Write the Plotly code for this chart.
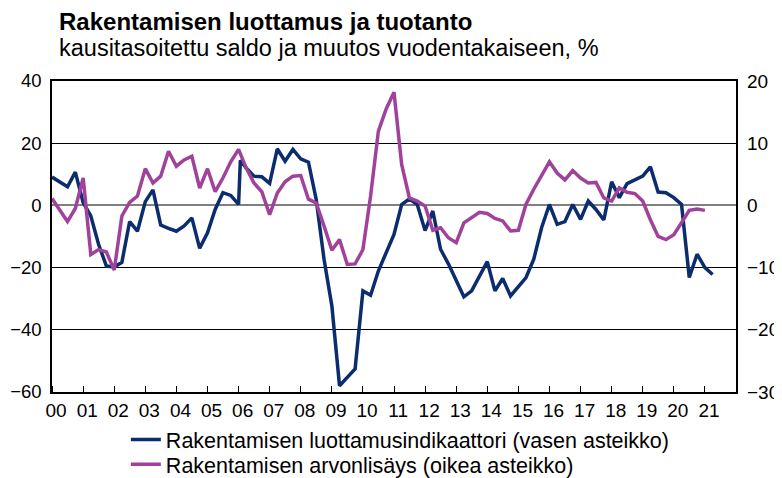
import pandas as pd
import plotly.graph_objects as go

# Construction confidence indicator (left scale), quarterly 2000Q1..2021Q2,
# plus one extra observation in January 2006
navy_name = "Rakentamisen luottamusindikaattori (vasen asteikko)"
navy_values = [9.1, 7.6, 6.0, 10.7, 0.9, -3.4, -12.5, -19.5, -19.8, -18.3,
               -5.2, -8.3, 1.2, 5.0, -6.3, -7.4, -8.3, -6.6, -4.0, -13.8,
               -8.8, -1.3, 4.1, 3.2, 0.3, 14.5,
               12.0, 9.4, 9.2, 7.1, 18.2, 14.2, 18.0, 15.0, 13.9, 1.9,
               -17.3, -32.3, -58.0, -55.3, -52.6, -27.5, -28.9, -21.1, -15.2, -9.3,
               0.3, 2.1, 0.3, -8.1, -1.8, -14.1, -18.8, -23.9, -29.4, -27.5,
               -22.8, -18.1, -27.5, -23.5, -29.1, -26.2, -23.2, -17.3, -7.2, 0.3,
               -6.1, -5.2, 0.3, -4.5, 1.4, -1.3, -4.7, 7.6, 2.5, 7.0,
               8.3, 9.4, 12.4, 4.3, 4.1, 2.5, 0.3, -23.2, -15.7, -20.0,
               -22.2]
navy_extra_date = "2006-01-22"

# Construction value added, y/y % (right scale), quarterly 2000Q1..2021Q1
purple_name = "Rakentamisen arvonlisäys (oikea asteikko)"
purple_values = [1.1, -0.7, -2.6, -0.5, 4.4, -7.9, -7.1, -7.5, -10.4, -1.7,
                 0.5, 1.5, 5.9, 3.6, 4.7, 8.7, 6.3, 7.3, 7.9, 2.8,
                 5.9, 2.2, 4.4, 7.0, 9.0, 6.0, 3.6, 2.2, -1.5, 2.0,
                 3.8, 4.7, 4.8, 1.0, 0.4, -3.3, -7.2, -5.5, -9.5, -9.4,
                 -7.1, 1.5, 11.9, 15.5, 18.2, 6.6, 1.2, 0.7, -0.1, -4.0,
                 -3.6, -5.2, -6.0, -2.8, -2.0, -1.1, -1.3, -2.1, -2.5, -4.1,
                 -4.0, 0.2, 2.6, 4.7, 7.0, 5.2, 4.1, 5.6, 4.4, 3.6,
                 3.7, 1.2, 0.7, 2.8, 2.1, 1.9, 0.7, -2.3, -5.0, -5.5,
                 -4.7, -2.8, -0.8, -0.6, -0.8]

year_labels = [f"{y % 100:02d}" for y in range(2000, 2022)]
left_ticks = [-60, -40, -20, 0, 20, 40]
right_ticks = [-30, -20, -10, 0, 10, 20]

title_text = "Rakentamisen luottamus ja tuotanto"
subtitle_text = "kausitasoitettu saldo ja muutos vuodentakaiseen, %"

# dates
navy_dates = list(pd.date_range("2000-01-01", periods=86, freq="QS"))
navy_dates.insert(25, pd.Timestamp(navy_extra_date))
purple_dates = list(pd.date_range("2000-01-01", periods=len(purple_values), freq="QS"))

NAVY = "#0b2d6d"
PURPLE = "#a0429b"
FONT = "Arial, Liberation Sans, sans-serif"

fig = go.Figure()
fig.add_trace(go.Scatter(x=navy_dates, y=navy_values, name=navy_name, mode="lines",
                         line=dict(color=NAVY, width=3.5), yaxis="y", legend="legend"))
fig.add_trace(go.Scatter(x=purple_dates, y=purple_values, name=purple_name, mode="lines",
                         line=dict(color=PURPLE, width=3.5), yaxis="y2", legend="legend2"))

label_pos = [pd.Timestamp(f"{y}-02-18") for y in range(2000, 2022)]

legend_style = dict(x=0.108, xanchor="left", yanchor="middle",
                    font=dict(size=21.5, family=FONT), bgcolor="rgba(0,0,0,0)",
                    itemwidth=30)

# the page body adds an 8 px offset, so the figure is 8 px smaller than the window
fig.update_layout(
    width=774, height=470,
    margin=dict(l=44, r=46, t=73, b=86, autoexpand=False),
    paper_bgcolor="white", plot_bgcolor="white",
    font=dict(family=FONT, color="black", size=19),
    showlegend=True,
    legend=dict(y=-0.153, **legend_style),
    legend2=dict(y=-0.232, **legend_style),
    xaxis=dict(type="date", range=["2000-01-01", "2022-01-01"],
               tickvals=label_pos, ticktext=year_labels, ticks="",
               tickfont=dict(size=19), showgrid=False, zeroline=False,
               showline=True, linecolor="black", linewidth=1.5, mirror=True,
               minor=dict(ticks="inside", ticklen=6, tickcolor="black", tickwidth=1,
                          dtick="M12", tick0="2000-01-01", showgrid=False)),
    yaxis=dict(range=[-60, 40], tickvals=left_ticks, showgrid=True,
               gridcolor="black", gridwidth=1, zeroline=True, zerolinecolor="#808080",
               zerolinewidth=2, showline=True, linecolor="black", linewidth=1.5,
               mirror=True, ticks="", tickfont=dict(size=18.5), ticklabelstandoff=5),
    yaxis2=dict(range=[-30, 20], tickvals=right_ticks, overlaying="y", side="right",
                showgrid=False, zeroline=False, showline=False, ticks="",
                tickfont=dict(size=19), ticklabelstandoff=10),
    annotations=[
        dict(text=f"<b>{title_text}</b>", xref="paper", yref="paper", x=0.007, y=1.192,
             xanchor="left", yanchor="middle", showarrow=False,
             font=dict(size=24, family=FONT)),
        dict(text=subtitle_text, xref="paper", yref="paper", x=0.007, y=1.105,
             xanchor="left", yanchor="middle", showarrow=False,
             font=dict(size=23.5, family=FONT)),
    ],
)

fig.write_html("out.html")
